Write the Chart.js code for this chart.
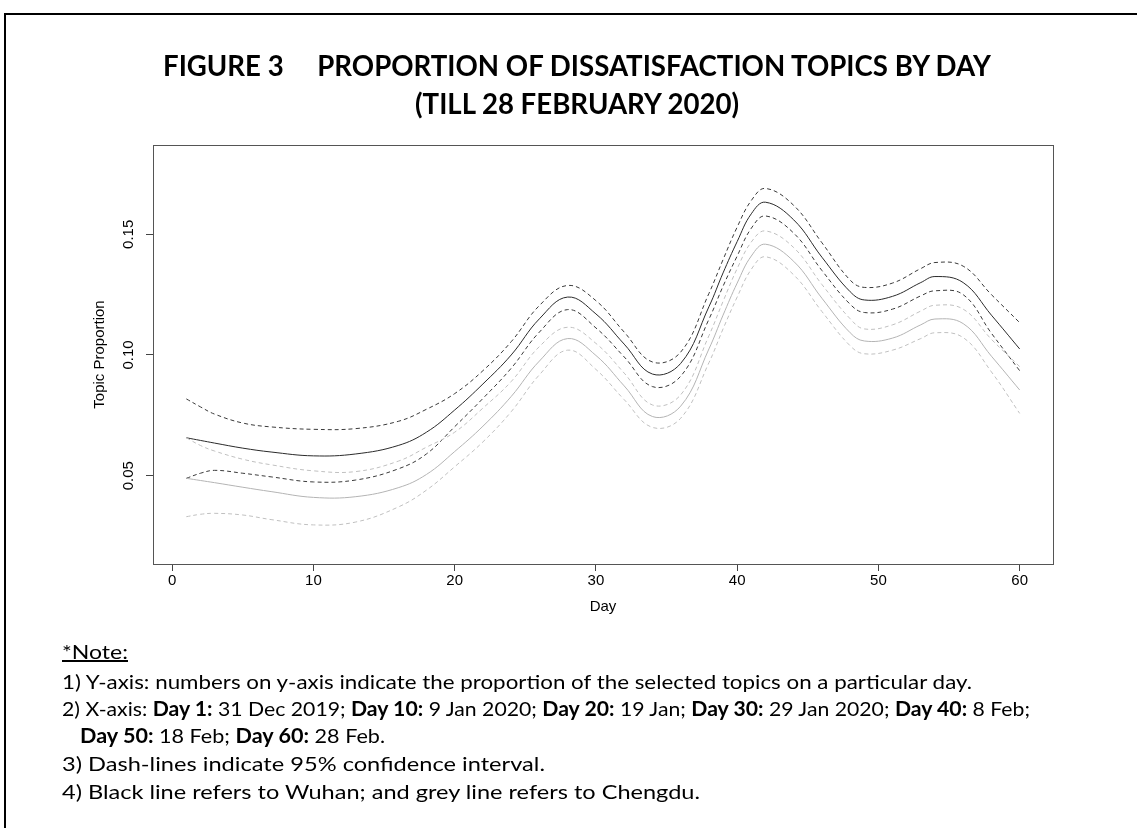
<!DOCTYPE html>
<html><head><meta charset="utf-8">
<script src="https://cdn.jsdelivr.net/npm/chart.js@4.4.1/dist/chart.umd.min.js"></script>
<style>
html,body{margin:0;padding:0;background:#fff;}
#wrap{position:relative;width:1137px;height:828px;overflow:hidden;background:#fff;}
#frame{position:absolute;left:4px;top:13px;width:1160px;height:840px;border-left:2px solid #000;border-top:2px solid #000;box-sizing:border-box;}
#c{position:absolute;left:0;top:0;}
.ln{position:absolute;white-space:pre;font-family:Lato,'Open Sans',sans-serif;color:#000;line-height:1;}
.title{font-weight:bold;font-size:28px;left:577px;transform-origin:50% 50%;}
.note{font-size:20px;left:62px;transform-origin:0 50%;}
.note b{font-weight:bold;}
</style></head>
<body><div id="wrap">
<div id="frame"></div>
<canvas id="c" width="1137" height="828"></canvas>
<div class="ln title" id="t1" style="top:51px">FIGURE 3     PROPORTION OF DISSATISFACTION TOPICS BY DAY</div>
<div class="ln title" id="t2" style="top:89px">(TILL 28 FEBRUARY 2020)</div>
<div class="ln note" id="n0" style="top:641px"><u>*Note:</u></div>
<div class="ln note" id="n1" style="top:671px">1) Y-axis: numbers on y-axis indicate the proportion of the selected topics on a particular day.</div>
<div class="ln note" id="n2" style="top:698px">2) X-axis: <b>Day 1:</b> 31 Dec 2019; <b>Day 10:</b> 9 Jan 2020; <b>Day 20:</b> 19 Jan; <b>Day 30:</b> 29 Jan 2020; <b>Day 40:</b> 8 Feb;</div>
<div class="ln note" id="n3" style="top:725px;left:80px"><b>Day 50:</b> 18 Feb; <b>Day 60:</b> 28 Feb.</div>
<div class="ln note" id="n4" style="top:753px">3) Dash-lines indicate 95% confidence interval.</div>
<div class="ln note" id="n5" style="top:781px">4) Black line refers to Wuhan; and grey line refers to Chengdu.</div>
</div>
<script>
// ---- data ----
const days = [1,2,3,5,7,10,13,16,18,20,22,24,26,28,30,32,34,36,38,39,40,41,42,44,46,48,49,51,53,54,56,58,60];
const wuhanMean  = [0.0657,0.0646,0.0635,0.0614,0.0598,0.0582,0.0590,0.0625,0.0680,0.0772,0.0880,0.1000,0.1150,0.1240,0.1170,0.1045,0.0921,0.0965,0.1200,0.1340,0.1470,0.1585,0.1633,0.1560,0.1405,0.1262,0.1228,0.1243,0.1300,0.1325,0.1300,0.1165,0.1025];
const wuhanUpper = [0.0818,0.0785,0.0755,0.0718,0.0702,0.0692,0.0695,0.0725,0.0775,0.0840,0.0935,0.1055,0.1205,0.1288,0.1225,0.1095,0.0971,0.1012,0.1255,0.1395,0.1530,0.1640,0.1690,0.1620,0.1465,0.1310,0.1280,0.1298,0.1358,0.1383,0.1368,0.1250,0.1134];
const wuhanLower = [0.0489,0.0510,0.0522,0.0510,0.0495,0.0474,0.0482,0.0528,0.0590,0.0703,0.0820,0.0945,0.1095,0.1188,0.1112,0.0992,0.0869,0.0912,0.1148,0.1285,0.1410,0.1525,0.1576,0.1505,0.1350,0.1210,0.1176,0.1190,0.1245,0.1266,0.1250,0.1090,0.0935];
const chengduMean  = [0.0489,0.0480,0.0471,0.0452,0.0434,0.0410,0.0413,0.0450,0.0505,0.0600,0.0705,0.0828,0.0975,0.1068,0.0998,0.0872,0.0745,0.0788,0.1025,0.1165,0.1298,0.1410,0.1459,0.1388,0.1235,0.1092,0.1058,0.1070,0.1125,0.1149,0.1130,0.0995,0.0855];
const chengduUpper = [0.0657,0.0625,0.0602,0.0568,0.0545,0.0520,0.0517,0.0560,0.0618,0.0680,0.0780,0.0890,0.1035,0.1115,0.1048,0.0925,0.0793,0.0835,0.1080,0.1222,0.1358,0.1468,0.1514,0.1445,0.1292,0.1150,0.1108,0.1125,0.1182,0.1206,0.1190,0.1065,0.0952];
const chengduLower = [0.0330,0.0340,0.0344,0.0337,0.0318,0.0296,0.0308,0.0370,0.0440,0.0537,0.0640,0.0765,0.0918,0.1020,0.0940,0.0815,0.0700,0.0738,0.0968,0.1108,0.1240,0.1355,0.1407,0.1332,0.1180,0.1038,0.1005,0.1020,0.1068,0.1092,0.1072,0.0930,0.0758];
const xTicks = [0,10,20,30,40,50,60];
const yTicks = [0.05,0.10,0.15];
const yTickLabels = ['0.05','0.10','0.15'];

const pts = arr => days.map((d,i)=>({x:d,y:arr[i]}));
const BLACK='#2a2a2a', BLACKD='#3a3a3a', GREY='#b4b4b4', GREYD='#c0c0c0';
const DASH=[4,3];
function ds(label,arr,color,dash,w){return {label,data:pts(arr),borderColor:color,borderWidth:w,borderDash:dash,pointRadius:0,fill:false,tension:0.4};}

const boxPlugin = {
  id:'box',
  afterDraw(chart){
    const a=chart.chartArea, c=chart.ctx;
    c.save(); c.strokeStyle='#555'; c.lineWidth=1;
    c.strokeRect(Math.round(a.left)+0.5,Math.round(a.top)+0.5,Math.round(a.right-a.left),Math.round(a.bottom-a.top));
    c.restore();
  }
};
const tickFont={family:"'Liberation Sans', Arial, sans-serif",size:15};

new Chart(document.getElementById('c'),{
  type:'line',
  data:{datasets:[
    ds('Chengdu upper',chengduUpper,GREYD,DASH,1),
    ds('Chengdu',chengduMean,GREY,[],1),
    ds('Chengdu lower',chengduLower,GREYD,DASH,1),
    ds('Wuhan upper',wuhanUpper,BLACKD,DASH,1),
    ds('Wuhan',wuhanMean,BLACK,[],1),
    ds('Wuhan lower',wuhanLower,BLACKD,DASH,1)
  ]},
  options:{
    responsive:false,animation:false,devicePixelRatio:1,
    layout:{padding:{left:80,top:145,right:84,bottom:204}},
    plugins:{legend:{display:false},tooltip:{enabled:false},title:{display:false}},
    scales:{
      x:{type:'linear',min:-1.36,max:62.36,
        afterBuildTicks:s=>{s.ticks=xTicks.map(v=>({value:v}));},
        afterFit:s=>{s.height=60;},
        grid:{display:true,drawOnChartArea:false,drawTicks:true,tickLength:7,color:'#444',lineWidth:1},
        border:{display:false},
        ticks:{font:tickFont,color:'#000',padding:1,maxRotation:0,minRotation:0,autoSkip:false,callback:v=>String(v)},
        title:{display:true,text:'Day',font:tickFont,color:'#000',padding:{top:0,bottom:8}}
      },
      y:{type:'linear',min:0.0134,max:0.187,
        afterBuildTicks:s=>{s.ticks=yTicks.map(v=>({value:v}));},
        afterFit:s=>{s.width=73;},
        grid:{display:true,drawOnChartArea:false,drawTicks:true,tickLength:7,color:'#444',lineWidth:1},
        border:{display:false},
        ticks:{font:tickFont,color:'#000',padding:3,minRotation:90,maxRotation:90,crossAlign:'center',autoSkip:false,
          callback:(v)=>{const i=yTicks.findIndex(t=>Math.abs(t-v)<1e-9);return i>=0?yTickLabels[i]:'';}},
        title:{display:true,text:'Topic Proportion',font:tickFont,color:'#000',padding:{top:11,bottom:0}}
      }
    }
  },
  plugins:[boxPlugin]
});

// fit text widths to the reference
function scaleTo(id,target){
  const el=document.getElementById(id);
  return target/el.getBoundingClientRect().width;
}
const kt=scaleTo('t1',828);
['t1','t2'].forEach(id=>{document.getElementById(id).style.transform='translateX(-50%) scaleX('+kt+')';});
const noteTargets={n0:66,n1:910,n2:968,n3:305,n4:483,n5:638};
Object.keys(noteTargets).forEach(id=>{
  const k=scaleTo(id,noteTargets[id]);
  document.getElementById(id).style.transform='scaleX('+k+')';
});
</script>
</body></html>
